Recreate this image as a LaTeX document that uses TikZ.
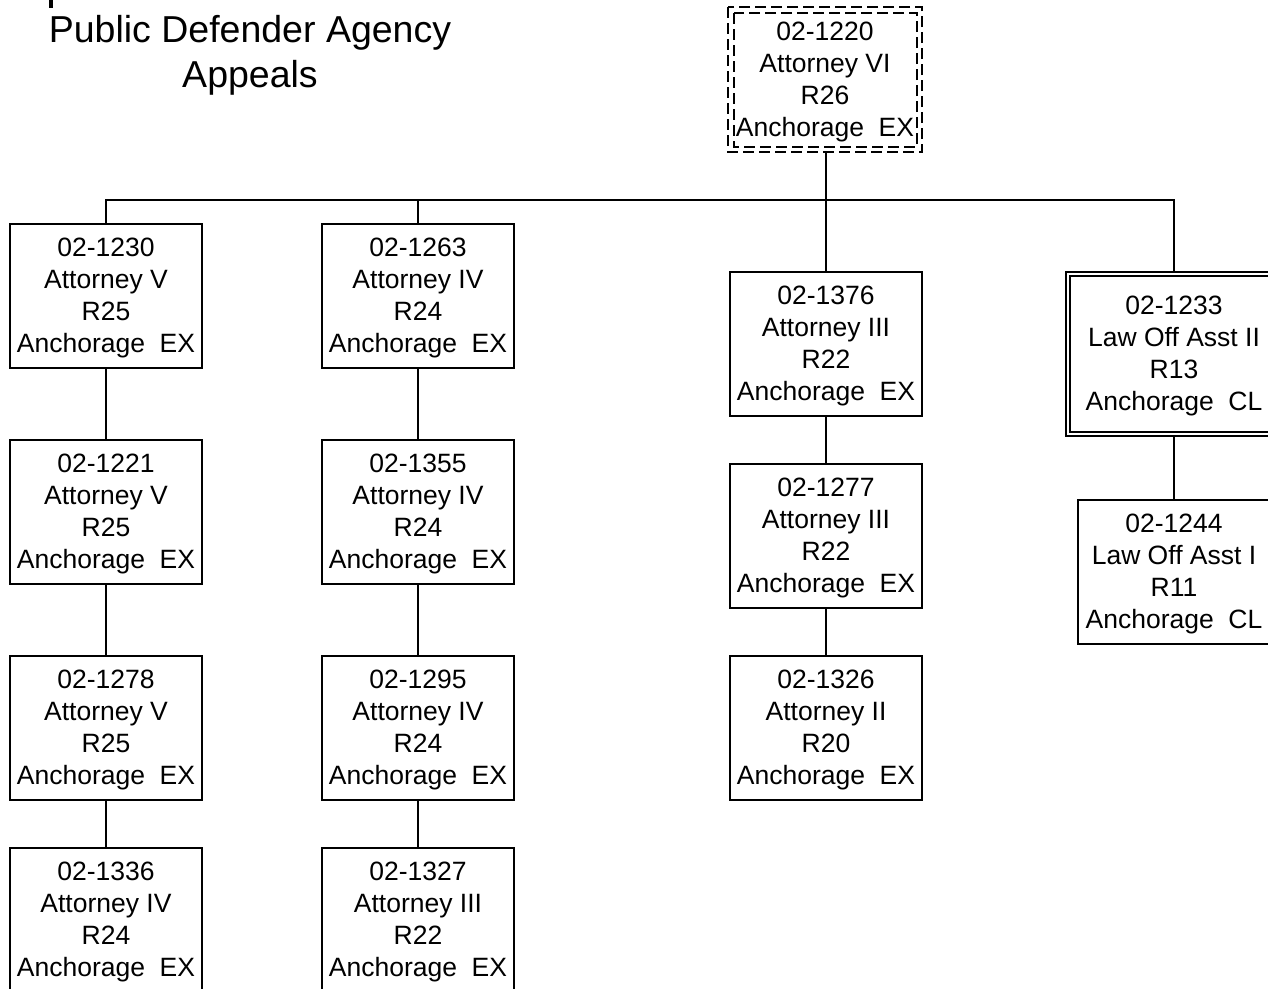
\documentclass[tikz,border=0pt]{standalone}
\usepackage{fontspec}
\setmainfont{Liberation Sans}
\tikzset{
  posbox/.style={draw, line width=2pt, minimum width=192pt, minimum height=144pt,
    inner sep=0pt, align=center, text depth=1.5pt, font=\fontsize{26.5}{32}\selectfont},
  dblposbox/.style={posbox, draw=none, minimum width=214pt, minimum height=162pt},
  topposbox/.style={posbox, draw=none, minimum width=192pt, minimum height=143pt},
  dashline/.style={line width=1.8pt, dash pattern=on 11pt off 5pt},
  frameline/.style={line width=1.7pt},
  conn/.style={line width=2pt},
  titletext/.style={anchor=base, inner sep=0pt, font=\fontsize{37.5}{45}\selectfont}
}
\begin{document}
\begin{tikzpicture}[x=1pt,y=-1pt]
\useasboundingbox (0,0) rectangle (1268,988);
\fill[white] (0,0) rectangle (1268,988);
% fragment of a cut-off line above the title
\fill (48.5,0) rectangle (53,7.5);
\node[titletext] (t1) at (250,42) {Public Defender Agency};
\node[titletext] (t2) at (250,87) {Appeals};

\node[topposbox] (top) at (825,79.5) {02-1220\\Attorney VI\\R26\\Anchorage\ \ EX};
\draw[dashline] (top.north west) rectangle (top.south east);
\draw[dashline] ([shift={(6,6)}]top.north west) rectangle ([shift={(-5,-5)}]top.south east);

\node[posbox] (a1) at (106,296) {02-1230\\Attorney V\\R25\\Anchorage\ \ EX};
\node[posbox] (a2) at (106,512) {02-1221\\Attorney V\\R25\\Anchorage\ \ EX};
\node[posbox] (a3) at (106,728) {02-1278\\Attorney V\\R25\\Anchorage\ \ EX};
\node[posbox] (a4) at (106,920) {02-1336\\Attorney IV\\R24\\Anchorage\ \ EX};

\node[posbox] (b1) at (418,296) {02-1263\\Attorney IV\\R24\\Anchorage\ \ EX};
\node[posbox] (b2) at (418,512) {02-1355\\Attorney IV\\R24\\Anchorage\ \ EX};
\node[posbox] (b3) at (418,728) {02-1295\\Attorney IV\\R24\\Anchorage\ \ EX};
\node[posbox] (b4) at (418,920) {02-1327\\Attorney III\\R22\\Anchorage\ \ EX};

\node[posbox] (c1) at (826,344) {02-1376\\Attorney III\\R22\\Anchorage\ \ EX};
\node[posbox] (c2) at (826,536) {02-1277\\Attorney III\\R22\\Anchorage\ \ EX};
\node[posbox] (c3) at (826,728) {02-1326\\Attorney II\\R20\\Anchorage\ \ EX};

\node[dblposbox] (d1) at (1174,354) {02-1233\\Law Off Asst II\\R13\\Anchorage\ \ CL};
\draw[frameline] (d1.north west) rectangle (d1.south east);
\draw[frameline] ([shift={(4,4)}]d1.north west) rectangle ([shift={(-4,-4)}]d1.south east);
\node[posbox] (d2) at (1174,572) {02-1244\\Law Off Asst I\\R11\\Anchorage\ \ CL};

\coordinate (bus) at (826,200);
\draw[conn] (top.south -| c1.north) -- (c1.north);
\draw[conn] (a1.north) |- (bus) -| (d1.north);
\draw[conn] (b1.north) |- (bus);
\draw[conn] (a1) -- (a2) (a2) -- (a3) (a3) -- (a4);
\draw[conn] (b1) -- (b2) (b2) -- (b3) (b3) -- (b4);
\draw[conn] (c1) -- (c2) (c2) -- (c3);
\draw[conn] (d1) -- (d2);
\end{tikzpicture}
\end{document}
